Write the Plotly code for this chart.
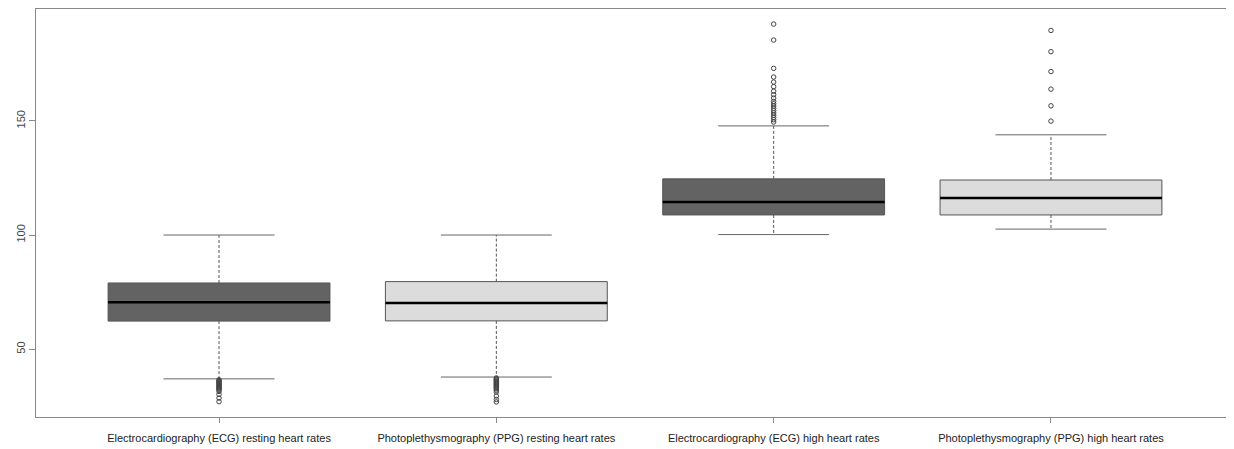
import plotly.graph_objects as go

categories = [
    "Electrocardiography (ECG) resting heart rates",
    "Photoplethysmography (PPG) resting heart rates",
    "Electrocardiography (ECG) high heart rates",
    "Photoplethysmography (PPG) high heart rates",
]
q1 = [62.3, 62.4, 108.8, 108.8]
median = [70.6, 70.2, 114.5, 116.2]
q3 = [79.0, 79.6, 124.6, 124.1]
lower_whisker = [37.0, 37.8, 100.2, 102.6]
upper_whisker = [100.0, 100.0, 147.8, 143.9]
outliers = [
    [36.6, 36.2, 35.8, 35.4, 35.0, 34.6, 34.2, 33.8, 33.4, 33.0, 32.6, 32.2, 31.5, 30.2, 28.6, 27.0],
    [37.4, 37.0, 36.6, 36.2, 35.8, 35.4, 35.0, 34.6, 34.2, 33.8, 33.4, 33.0, 32.6, 32.0, 31.2, 29.5, 28.0, 26.9],
    [149.5, 150.5, 151.5, 152.5, 153.5, 154.5, 155.5, 156.5, 157.5, 158.5, 160.0, 161.5, 163.0, 165.0, 167.0, 169.2, 173.0, 185.4, 192.4],
    [149.9, 156.6, 163.9, 171.6, 180.3, 189.6],
]
fill_colors = ["#636363", "#DCDCDC", "#636363", "#DCDCDC"]

positions = [1, 2, 3, 4]
box_width = 0.8
cap_half = 0.2

fig = go.Figure()

for i, pos in enumerate(positions):
    fig.add_trace(go.Scatter(
        x=[pos, pos, None, pos, pos],
        y=[q3[i], upper_whisker[i], None, q1[i], lower_whisker[i]],
        mode="lines", line=dict(color="#555555", width=1, dash="3px,2px"),
        hoverinfo="skip", showlegend=False))
    fig.add_trace(go.Scatter(
        x=[pos - cap_half, pos + cap_half, None, pos - cap_half, pos + cap_half],
        y=[upper_whisker[i], upper_whisker[i], None, lower_whisker[i], lower_whisker[i]],
        mode="lines", line=dict(color="#666666", width=1),
        hoverinfo="skip", showlegend=False))
    fig.add_trace(go.Box(
        x=[pos], q1=[q1[i]], median=[median[i]], q3=[q3[i]],
        lowerfence=[q1[i]], upperfence=[q3[i]],
        width=box_width, whiskerwidth=0,
        fillcolor=fill_colors[i], line=dict(color="#555555", width=1),
        boxpoints=False, showlegend=False, hoverinfo="skip"))
    fig.add_trace(go.Scatter(
        x=[pos - box_width / 2, pos + box_width / 2],
        y=[median[i], median[i]],
        mode="lines", line=dict(color="#000000", width=2.5),
        hoverinfo="skip", showlegend=False))
    fig.add_trace(go.Scatter(
        x=[pos] * len(outliers[i]), y=outliers[i],
        mode="markers",
        marker=dict(symbol="circle-open", size=4.5, color="#444444", line=dict(width=1)),
        hoverinfo="skip", showlegend=False))

fig.update_layout(
    width=1234, height=449,
    margin=dict(l=28, r=8, t=1, b=40, pad=0),
    paper_bgcolor="white", plot_bgcolor="white",
    font=dict(family="Liberation Sans, Arial, sans-serif", size=11, color="#333333"),
    showlegend=False,
)
fig.update_xaxes(
    automargin=False,
    range=[0.34, 4.66], tickvals=positions, ticktext=categories,
    showgrid=False, zeroline=False,
    showline=True, linecolor="#888888", linewidth=1, mirror=True,
    ticks="outside", ticklen=5, tickcolor="#888888",
    ticklabelstandoff=6,
    tickfont=dict(size=11, color="#222222"),
)
fig.update_yaxes(
    automargin=False,
    range=[20.3, 199], tickvals=[50, 100, 150],
    showgrid=False, zeroline=False,
    showline=True, linecolor="#888888", linewidth=1, mirror=True,
    ticks="outside", ticklen=6, tickcolor="#888888",
    tickangle=-90, tickfont=dict(size=11, color="#444444"),
)

fig.write_html("out.html")
